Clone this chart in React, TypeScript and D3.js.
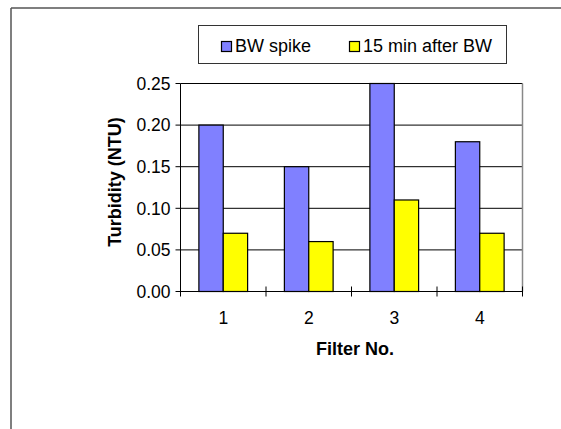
import React from "react";
import * as d3 from "d3";

const categories = ["1", "2", "3", "4"];
const seriesNames = ["BW spike", "15 min after BW"];
const bwSpike = [0.2, 0.15, 0.25, 0.18];
const after15 = [0.07, 0.06, 0.11, 0.07];
const yTicks = [0, 0.05, 0.1, 0.15, 0.2, 0.25];
const colors = ["#8080FF", "#FFFF00"];

const W = 561;
const H = 429;
const plot = { left: 180.5, right: 522.5, top: 83.5, bottom: 291.5 };
const FONT = "'Liberation Sans', Arial, sans-serif";

export default function App() {
  const x = d3
    .scaleBand<string>()
    .domain(categories)
    .range([plot.left, plot.right])
    .paddingInner(0.43)
    .paddingOuter(0.215);
  const outer = d3.scaleBand<string>().domain(categories).range([plot.left, plot.right]);
  const inner = d3.scaleBand<number>().domain([0, 1]).range([0, x.bandwidth()]);
  const y = d3.scaleLinear().domain([0, 0.25]).range([plot.bottom, plot.top]);
  const series = [bwSpike, after15];

  const boundaries = d3.range(categories.length + 1).map((i) => plot.left + i * outer.step());

  return (
    <svg
      width={W}
      height={H}
      style={{ position: "absolute", left: 0, top: 0, background: "#fff" }}
      fontFamily={FONT}
    >
      {/* outer frame */}
      <line x1={11} y1={8} x2={W} y2={8} stroke="#000" strokeWidth={1.2} />
      <line x1={11} y1={8} x2={11} y2={H} stroke="#555" strokeWidth={1.5} />

      {/* legend */}
      <rect x={198.5} y={25.5} width={308} height={38} fill="#fff" stroke="#333" strokeWidth={1} />
      {seriesNames.map((name, i) => {
        const lx = i === 0 ? 221 : 349;
        return (
          <g key={name}>
            <rect x={lx + 0.5} y={41.5} width={10} height={10} fill={colors[i]} stroke="#000" strokeWidth={1.2} />
            <text x={lx + 14} y={52} fontSize={18} fill="#000">
              {name}
            </text>
          </g>
        );
      })}

      {/* gridlines */}
      {yTicks.map((t) => (
        <line key={t} x1={plot.left} x2={plot.right} y1={y(t)} y2={y(t)} stroke="#000" strokeWidth={1} />
      ))}
      {/* plot right border */}
      <line x1={plot.right} x2={plot.right} y1={plot.top} y2={plot.bottom} stroke="#888" strokeWidth={1.5} />

      {/* bars */}
      {categories.map((c, ci) =>
        series.map((s, si) => (
          <rect
            key={c + si}
            x={(x(c) as number) + (inner(si) as number)}
            y={y(s[ci])}
            width={inner.bandwidth()}
            height={plot.bottom - y(s[ci])}
            fill={colors[si]}
            stroke="#000"
            strokeWidth={1.2}
          />
        ))
      )}

      {/* y axis */}
      <line x1={plot.left} x2={plot.left} y1={plot.top} y2={plot.bottom} stroke="#000" strokeWidth={1} />
      {yTicks.map((t) => (
        <g key={"yt" + t}>
          <line x1={plot.left - 5} x2={plot.left} y1={y(t)} y2={y(t)} stroke="#000" />
          <text x={170.5} y={y(t) + 6.3} textAnchor="end" fontSize={17.5} fill="#000">
            {d3.format(".2f")(t)}
          </text>
        </g>
      ))}

      {/* x axis */}
      <line x1={plot.left} x2={plot.right} y1={plot.bottom} y2={plot.bottom} stroke="#000" strokeWidth={1} />
      {boundaries.map((b, i) => (
        <line key={"xt" + i} x1={b} x2={b} y1={plot.bottom - 5} y2={plot.bottom + 5} stroke="#000" />
      ))}
      {categories.map((c) => (
        <text
          key={"xl" + c}
          x={(outer(c) as number) + outer.bandwidth() / 2}
          y={324}
          textAnchor="middle"
          fontSize={17.5}
          fill="#000"
        >
          {c}
        </text>
      ))}

      {/* axis titles */}
      <text x={355} y={355} textAnchor="middle" fontSize={18} fontWeight="bold" fill="#000">
        Filter No.
      </text>
      <text
        transform={`translate(121, 182) rotate(-90)`}
        textAnchor="middle"
        fontSize={18}
        fontWeight="bold"
        fill="#000"
      >
        Turbidity (NTU)
      </text>
    </svg>
  );
}
